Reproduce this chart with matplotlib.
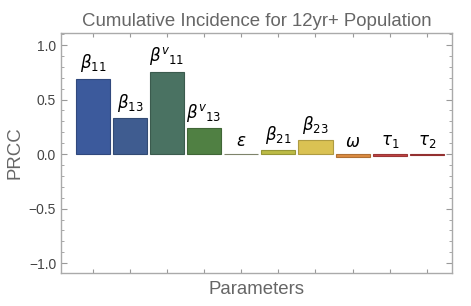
import numpy as np
import matplotlib.pyplot as plt
from matplotlib.ticker import MultipleLocator
from matplotlib.colors import to_rgb

plt.rcParams['font.family'] = ['Liberation Sans', 'DejaVu Sans']
plt.rcParams['mathtext.fontset'] = 'dejavusans'

# data
params = [r'$\beta_{11}$', r'$\beta_{13}$', r'$\beta^{v}{}_{11}$', r'$\beta^{v}{}_{13}$',
          r'$\epsilon$', r'$\beta_{21}$', r'$\beta_{23}$', r'$\omega$',
          r'$\tau_1$', r'$\tau_2$']
prcc = [0.69, 0.33, 0.755, 0.24, 0.004, 0.035, 0.125, -0.025, -0.016, -0.01]
colors = ['#3c5a9c', '#3f5c90', '#4a7262', '#508043', '#9ea486',
          '#bcbb45', '#dac253', '#dc8c42', '#c24444', '#b83c3c']

fig = plt.figure(figsize=(4.71, 3.06), dpi=100)
ax = fig.add_axes([0.1295, 0.108, 0.8302, 0.784])

x = np.arange(len(prcc))
edges = [tuple(c * 0.8 for c in to_rgb(col)) for col in colors]
ax.bar(x, prcc, width=0.92, color=colors, edgecolor=edges, linewidth=0.8)

for xi, v, lab in zip(x, prcc, params):
    ax.text(xi, max(v, 0) + 0.04, lab, ha='center', va='bottom', fontsize=12)

ax.set_xlim(-0.86, 9.68)
ax.set_ylim(-1.09, 1.11)
ax.set_xticks(x)
ax.set_xticklabels([])
ax.yaxis.set_major_locator(MultipleLocator(0.5))
ax.yaxis.set_minor_locator(MultipleLocator(0.1))
ax.tick_params(axis='both', which='both', direction='in', top=True, right=True,
               color='#999999', labelcolor='#444444', labelsize=10)
ax.tick_params(axis='y', which='major', length=4)
ax.tick_params(axis='y', which='minor', length=2)
ax.tick_params(axis='x', which='major', length=3)
for s in ax.spines.values():
    s.set_color('#aaaaaa')
    s.set_linewidth(1.0)

ax.set_title('Cumulative Incidence for 12yr+ Population', fontsize=13.4, color='#666666', pad=5)
ax.set_xlabel('Parameters', fontsize=13.4, color='#666666', labelpad=2)
ax.set_ylabel('PRCC', fontsize=13.4, color='#666666', labelpad=4)

plt.savefig('out.png', dpi=100)
